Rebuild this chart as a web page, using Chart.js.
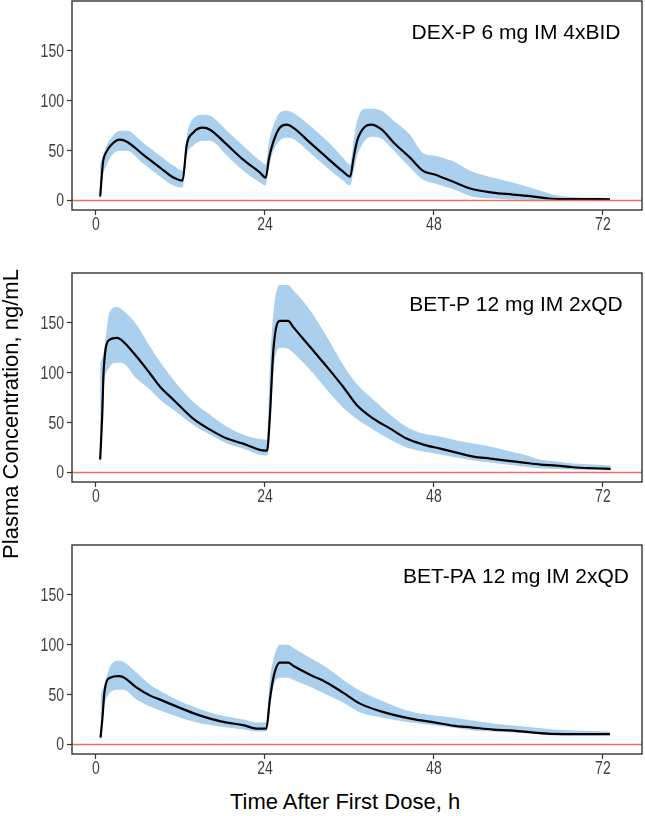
<!DOCTYPE html>
<html>
<head>
<meta charset="utf-8">
<script src="https://cdn.jsdelivr.net/npm/chart.js@4.4.1/dist/chart.umd.min.js"></script>
<style>
  body { margin: 0; background: #fff; }
  #wrap { position: relative; width: 645px; height: 816px; overflow: hidden; font-family: "Liberation Sans", Arial, sans-serif; }
  .panel { position: absolute; left: 0; width: 645px; height: 244px; }
  #ytitle { position: absolute; width: 400px; left: -189px; top: 401px; height: 26px; line-height: 26px;
            text-align: center; font-size: 22px; color: #000; transform: rotate(-90deg); }
  #xtitle { position: absolute; width: 400px; left: 145px; top: 789px; line-height: 26px;
            text-align: center; font-size: 22px; color: #000; }
</style>
</head>
<body>
<div id="wrap">
  <div class="panel" style="top:-3px"><canvas id="p1"></canvas></div>
  <div class="panel" style="top:269px"><canvas id="p2"></canvas></div>
  <div class="panel" style="top:541px"><canvas id="p3"></canvas></div>
  <div id="ytitle">Plasma Concentration, ng/mL</div>
  <div id="xtitle">Time After First Dose, h</div>
</div>
<script>
// axis ticks
const xTickValues = [0, 24, 48, 72];
const yTickValues = [0, 50, 100, 150];

// DEX-P 6 mg IM 4xBID
const dexTime = [0.6, 1.0, 1.5, 2.2, 3.4, 4.4, 6.7, 9.1, 11.0, 12.3, 12.9, 13.8, 15.2, 16.2, 18.6, 20.9, 23.3, 24.1, 24.6, 25.2, 26.1, 27.1, 28.0, 30.4, 32.8, 35.1, 36.1, 36.6, 37.1, 38.2, 39.1, 40.6, 42.3, 44.6, 46.4, 48.1, 50.5, 53.4, 56.3, 59.2, 62.1, 64.4, 66.5, 73.0];
const dexMedian = [4, 38, 49, 56, 61, 59, 46, 33, 23, 20, 56, 68, 73, 71, 56, 41, 28, 23, 43, 59, 73, 76, 73, 58, 43, 29, 24, 43, 60, 74, 76, 71, 58, 43, 30, 26, 19.5, 11.5, 8, 6, 4, 2, 1.5, 1.3];
const dexUpper = [37, 45, 55, 63, 70, 70, 58, 45, 35, 30, 65, 82, 86, 85, 70, 55, 40, 36, 60, 75, 88, 90, 88, 75, 60, 43, 36, 60, 80, 92, 92, 90, 80, 66, 48, 45, 40, 29, 23, 18, 12, 7, 4, 2.5];
const dexLower = [0, 25, 35, 45, 50, 50, 37, 24, 15, 13, 45, 55, 60, 60, 45, 30, 18, 15, 35, 50, 60, 63, 62, 48, 33, 20, 15, 30, 45, 60, 64, 62, 50, 33, 21, 17, 12, 4, 2, 1, 0.5, 0.5, 0.5, 0.5];

// BET-P 12 mg IM 2xQD
const betpTime = [0.6, 0.9, 1.1, 1.9, 3.0, 3.6, 5.8, 7.7, 9.1, 11.0, 13.8, 16.2, 18.6, 20.9, 24.0, 24.3, 24.7, 25.2, 26.1, 27.3, 28.0, 30.4, 32.8, 35.1, 37.0, 39.4, 41.8, 44.1, 46.5, 48.9, 51.2, 53.6, 56.0, 58.3, 60.7, 63.1, 65.4, 67.8, 70.6, 73.1];
const betpMedian = [13, 59, 103, 133, 135, 133, 116, 99, 86, 73, 54, 43, 34, 29, 22, 22, 56, 123, 152, 152, 146, 126, 106, 86, 68, 54, 44, 34, 28, 24, 20, 16, 14, 12, 10, 8, 7, 5.3, 4.3, 3.7];
const betpUpper = [110, 115, 120, 160, 166, 164, 148, 126, 111, 93, 71, 58, 46, 38, 33, 33, 105, 160, 188, 188, 183, 163, 136, 108, 89, 73, 58, 46, 39, 36, 32, 29, 26, 22, 18, 13, 11, 9, 8, 7];
const betpLower = [0, 60, 85, 105, 110, 110, 94, 83, 73, 63, 48, 38, 29, 24, 17, 17, 40, 100, 125, 124, 120, 103, 83, 65, 54, 43, 33, 25, 21, 18, 15, 12, 10, 8, 6, 4, 3.5, 3, 2.5, 2];

// BET-PA 12 mg IM 2xQD
const betpaTime = [0.66, 0.95, 1.2, 2.0, 3.2, 3.9, 5.8, 7.7, 9.1, 11.5, 13.8, 16.2, 18.6, 20.9, 22.8, 24.2, 24.7, 25.2, 26.1, 27.3, 28.0, 30.4, 32.8, 35.1, 37.5, 40.6, 44.7, 48.2, 50.6, 53.5, 56.4, 59.3, 62.2, 65.1, 68.0, 73.0];
const betpaMedian = [7, 29, 52, 67, 68.5, 67.5, 57, 49, 45, 38, 31.5, 26, 22, 19.5, 16, 16, 45, 67, 82, 82, 79, 70, 62, 52, 41, 33, 26, 22, 19, 17, 15, 14, 12, 10.7, 10.5, 10.5];
const betpaUpper = [50, 55, 60, 78, 84, 83, 72, 60, 54, 45, 38, 32, 28, 25, 22, 22, 65, 85, 100, 100, 97, 87, 77, 65, 54, 44, 33, 29, 27, 24, 21, 19, 17, 15, 14, 13];
const betpaLower = [0, 30, 40, 52, 55, 55, 45, 38, 34, 28, 23, 19.5, 17, 15, 13, 13, 35, 58, 67, 67, 65, 58, 50, 42, 32, 27, 22, 19, 17, 14, 13, 12, 10.5, 9, 9, 9];

const panelLabels = ["DEX-P 6 mg IM 4xBID", "BET-P 12 mg IM 2xQD", "BET-PA 12 mg IM 2xQD"];

function pts(t, v) {
  return t.map((x, i) => ({ x: x, y: v[i] }));
}

// narrow tick text: the reference uses a condensed face, so squeeze it a bit
function narrowText(ctx, text, x, y, align) {
  ctx.save();
  ctx.translate(x, y);
  ctx.scale(0.78, 1);
  ctx.textAlign = align;
  ctx.fillText(text, 0, 0);
  ctx.restore();
}

// frame, zero reference line, tick labels and panel label
const panelDeco = {
  id: 'panelDeco',
  afterDatasetsDraw(chart) {
    const { ctx, chartArea: a, scales } = chart;
    const y0 = scales.y.getPixelForValue(0);
    ctx.save();
    ctx.strokeStyle = '#f26c63';
    ctx.lineWidth = 1.3;
    ctx.beginPath();
    ctx.moveTo(a.left, y0);
    ctx.lineTo(a.right, y0);
    ctx.stroke();
    ctx.restore();
  },
  afterDraw(chart, args, opts) {
    const { ctx, chartArea: a, scales } = chart;
    ctx.save();
    ctx.strokeStyle = '#333';
    ctx.lineWidth = 1.4;
    ctx.strokeRect(a.left, a.top, a.right - a.left, a.bottom - a.top);

    ctx.fillStyle = '#404040';
    ctx.font = "18px 'Liberation Sans', Arial, sans-serif";
    ctx.textBaseline = 'middle';
    yTickValues.forEach(v => narrowText(ctx, String(v), a.left - 8, scales.y.getPixelForValue(v) + 1, 'right'));
    xTickValues.forEach(v => narrowText(ctx, String(v), scales.x.getPixelForValue(v), a.bottom + 15, 'center'));

    ctx.fillStyle = '#000';
    ctx.font = "21px 'Liberation Sans', Arial, sans-serif";
    ctx.textAlign = 'center';
    ctx.textBaseline = 'alphabetic';
    ctx.fillText(opts.label, 516, a.top + 38);
    ctx.restore();
  }
};

function drawPanel(id, label, time, median, lower, upper) {
  const ctx = document.getElementById(id).getContext('2d');
  return new Chart(ctx, {
    type: 'line',
    data: {
      datasets: [
        {
          label: 'Median',
          data: pts(time, median),
          borderColor: '#000',
          borderWidth: 2.2,
          pointRadius: 0,
          fill: false,
          cubicInterpolationMode: 'monotone',
          order: 0
        },
        {
          label: 'Upper',
          data: pts(time, upper),
          borderWidth: 0,
          borderColor: 'rgba(0,0,0,0)',
          backgroundColor: '#abd0ee',
          pointRadius: 0,
          fill: '+1',
          cubicInterpolationMode: 'monotone',
          order: 1
        },
        {
          label: 'Lower',
          data: pts(time, lower),
          borderWidth: 0,
          borderColor: 'rgba(0,0,0,0)',
          pointRadius: 0,
          fill: false,
          cubicInterpolationMode: 'monotone',
          order: 2
        }
      ]
    },
    options: {
      responsive: true,
      maintainAspectRatio: false,
      animation: false,
      layout: { padding: { top: 4, right: 3, left: 0, bottom: 0 } },
      plugins: {
        legend: { display: false },
        tooltip: { enabled: false },
        panelDeco: { label: label }
      },
      scales: {
        x: {
          type: 'linear',
          min: -3.4,
          max: 77.55,
          afterBuildTicks: s => { s.ticks = xTickValues.map(v => ({ value: v })); },
          afterFit: s => { s.height = 31; },
          grid: { drawOnChartArea: false, drawTicks: true, tickLength: 5, tickColor: '#333', tickWidth: 1.2 },
          border: { display: false },
          ticks: { display: false }
        },
        y: {
          min: -9.5,
          max: 200,
          afterBuildTicks: s => { s.ticks = yTickValues.map(v => ({ value: v })); },
          afterFit: s => { s.width = 72; },
          grid: { drawOnChartArea: false, drawTicks: true, tickLength: 5, tickColor: '#333', tickWidth: 1.2 },
          border: { display: false },
          ticks: { display: false }
        }
      }
    },
    plugins: [panelDeco]
  });
}

drawPanel('p1', panelLabels[0], dexTime, dexMedian, dexLower, dexUpper);
drawPanel('p2', panelLabels[1], betpTime, betpMedian, betpLower, betpUpper);
drawPanel('p3', panelLabels[2], betpaTime, betpaMedian, betpaLower, betpaUpper);
</script>
</body>
</html>
